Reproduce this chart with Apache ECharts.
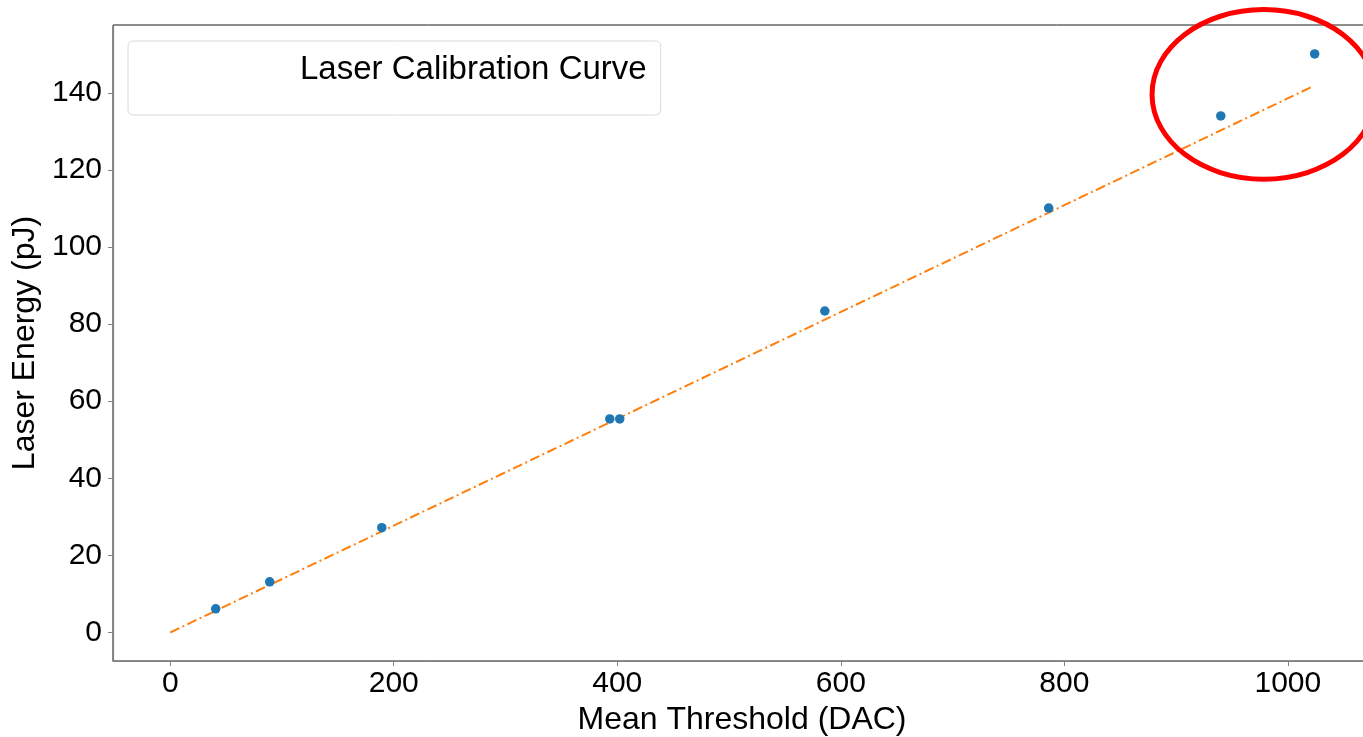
<!DOCTYPE html>
<html>
<head>
<meta charset="utf-8">
<script src="https://cdn.jsdelivr.net/npm/echarts@6/dist/echarts.min.js"></script>
<style>
html,body{margin:0;padding:0;background:#fff;overflow:hidden;width:1363px;height:737px;}
#chart{width:1380px;height:737px;}
</style>
</head>
<body>
<div id="chart"></div>
<script>
// Measured calibration points (Mean Threshold DAC, Laser Energy pJ)
const thresholds = [40.7, 89, 189.3, 393.3, 402.2, 585.7, 786, 940, 1024];
const energies   = [6.15, 13.15, 27.2, 55.4, 55.4, 83.4, 110.1, 134.0, 150.1];
// Fitted calibration line endpoints
const fitX = [0, 1023.3];
const fitY = [0, 141.8];
// Tick labels
const xTicks = [0, 200, 400, 600, 800, 1000];
const yTicks = [0, 20, 40, 60, 80, 100, 120, 140];
// Highlight annotation (data space)
const highlightCenter = [978.5, 139.6];
const highlightRadius = [100, 22];

const FONT = '"Liberation Sans", Arial, sans-serif';
const chart = echarts.init(document.getElementById('chart'), null, {renderer: 'canvas'});

const scatterData = thresholds.map((x, i) => [x, energies[i]]);
const lineData = fitX.map((x, i) => [x, fitY[i]]);

chart.setOption({
  backgroundColor: '#fff',
  animation: false,
  textStyle: {fontFamily: FONT},
  grid: {left: 113, top: 25, right: 9, bottom: 76, containLabel: false, outerBoundsMode: 'none',
         show: true, borderColor: '#1a1a1a', borderWidth: 1, backgroundColor: 'transparent'},
  legend: {
    left: 128, top: 41,
    padding: [10, 14, 26, 14],
    borderColor: '#d9d9d9', borderWidth: 1, borderRadius: 5,
    backgroundColor: '#fff',
    data: [{name: 'Laser Calibration Curve', icon: 'rect'}],
    itemWidth: 145, itemHeight: 14, itemGap: 0,
    itemStyle: {opacity: 0}, lineStyle: {opacity: 0},
    textStyle: {fontSize: 33, lineHeight: 38, color: '#000', fontFamily: FONT, padding: [0,0,0,8]}
  },
  xAxis: {
    type: 'value', min: -51.2, max: 1074.4,
    splitLine: {show: false},
    axisLine: {show: true, onZero: false, lineStyle: {color: '#808080', width: 1.2}},
    axisTick: {show: true, length: 5, customValues: xTicks, lineStyle: {color: '#808080'}},
    axisLabel: {customValues: xTicks, fontSize: 30, color: '#000', margin: 8, fontFamily: FONT, formatter: v => String(v)},
    name: 'Mean Threshold (DAC)', nameLocation: 'middle', nameGap: 38,
    nameTextStyle: {fontSize: 32, color: '#000', fontFamily: FONT}
  },
  yAxis: {
    type: 'value', min: -7.4, max: 157.6,
    splitLine: {show: false},
    axisLine: {show: true, onZero: false, lineStyle: {color: '#808080', width: 1.2}},
    axisTick: {show: true, length: 5, customValues: yTicks, lineStyle: {color: '#808080'}},
    axisLabel: {customValues: yTicks, fontSize: 30, color: '#000', margin: 11, fontFamily: FONT, formatter: v => String(v)},
    name: 'Laser Energy (pJ)', nameLocation: 'middle', nameGap: 64, nameRotate: 90,
    nameTextStyle: {fontSize: 32, color: '#000', fontFamily: FONT}
  },
  series: [
    {
      name: 'Laser Calibration Curve', type: 'line', data: lineData,
      showSymbol: false, symbol: 'none',
      lineStyle: {color: '#ff7f0e', width: 2, type: [10, 3.5, 2, 3.5]},
      z: 3
    },
    {
      name: 'Points', type: 'scatter', data: scatterData,
      symbol: 'circle', symbolSize: 9.5,
      itemStyle: {color: '#1f77b4', opacity: 1},
      z: 4
    }
  ]
});

const c = chart.convertToPixel({gridIndex: 0}, highlightCenter);
const e = chart.convertToPixel({gridIndex: 0}, [highlightCenter[0] + highlightRadius[0], highlightCenter[1] + highlightRadius[1]]);
chart.setOption({
  graphic: [{
    type: 'ellipse', z: 100,
    shape: {cx: c[0], cy: c[1], rx: Math.abs(e[0] - c[0]), ry: Math.abs(c[1] - e[1])},
    style: {fill: 'none', stroke: '#ff0000', lineWidth: 5}
  }]
});
</script>
</body>
</html>
